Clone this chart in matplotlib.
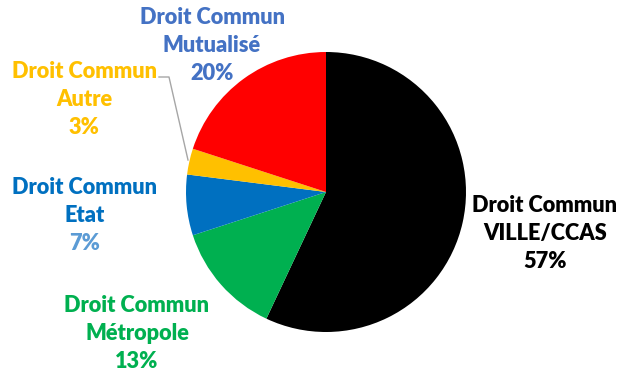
import matplotlib
matplotlib.use("Agg")
import matplotlib.pyplot as plt

categories = ["Droit Commun\nVILLE/CCAS", "Droit Commun\nMétropole", "Droit Commun\nEtat",
              "Droit Commun\nAutre", "Droit Commun\nMutualisé"]
values = [57, 13, 7, 3, 20]
slice_colors = ["#000000", "#00B050", "#0070C0", "#FFC000", "#FF0000"]
label_colors = ["#000000", "#00B050", "#0070C0", "#FFC000", "#4472C4"]
pct_colors = ["#000000", "#00B050", "#5B9BD5", "#FFC000", "#4472C4"]
# label block centres in pixels (x, y from top)
label_pos = [(545, 234), (137, 333), (85, 215), (84, 100), (212, 46)]

W, H = 630, 374
fig = plt.figure(figsize=(W/100, H/100), dpi=100)
cx, cy, r = 326, 192, 140
ax = fig.add_axes([(cx-r)/W, (H-cy-r)/H, 2*r/W, 2*r/H])
ax.pie(values, colors=slice_colors, startangle=90, counterclock=False, radius=1,
       wedgeprops=dict(linewidth=0))
ax.set_xlim(-1, 1); ax.set_ylim(-1, 1)
ax.set_aspect("equal")
ax.axis("off")

fam = ["Lato", "DejaVu Sans"]
fs = 15.7
for cat, v, lc, pc, (px, py) in zip(categories, values, label_colors, pct_colors, label_pos):
    lines = cat.split("\n")
    lh = 28
    for i, t in enumerate(lines):
        fig.text(px/W, 1-(py + (i-1)*lh)/H, t, ha="center", va="center",
                 color=lc, fontsize=fs, fontweight="heavy", family=fam)
    fig.text(px/W, 1-(py + lh)/H, f"{v}%", ha="center", va="center",
             color=pc, fontsize=fs, fontweight="heavy", family=fam)

# leader line for "Autre"
fig.add_artist(plt.Line2D([159/W, 169/W, 188/W], [1-77/H, 1-77/H, 1-160/H],
                          color="#A6A6A6", linewidth=1))

fig.savefig("out.png", dpi=100)
